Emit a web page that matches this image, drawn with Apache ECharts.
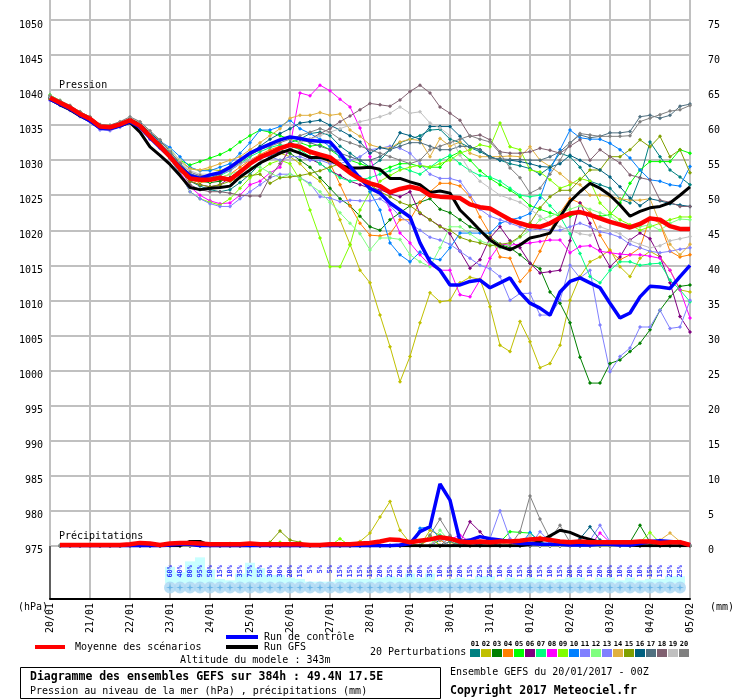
<!DOCTYPE html>
<html><head><meta charset="utf-8">
<script src="https://cdn.jsdelivr.net/npm/echarts@6/dist/echarts.min.js"></script>
<style>html,body{margin:0;padding:0;background:#fff}#c{width:740px;height:700px}</style>
</head><body><div id="c"></div>
<script>
// ---- tick labels / categories ----
const days = ['20/01','21/01','22/01','23/01','24/01','25/01','26/01','27/01','28/01','29/01','30/01','31/01','01/02','02/02','03/02','04/02','05/02'];
const hoursOfDay = ['00','06','12','18'];
const steps = [];
days.forEach((d,k)=>{ if(k<days.length-1){ hoursOfDay.forEach(h=>steps.push(d+' '+h+'h')); } else { steps.push(d+' 00h'); } });

const pertNames = ['01','02','03','04','05','06','07','08','09','10','11','12','13','14','15','16','17','18','19','20'];
const pertColors = ['#008080','#c0c000','#008000','#ff8000','#00ff00','#800080','#00ff80','#ff00ff','#80ff00','#0080ff','#8080ff','#80ff80','#8080ff','#e0b040','#80a000','#006080','#507080','#806070','#c0c0c0','#808080'];

// ---- pressure (hPa), every 6h ----
const mean = [1038.9,1038.2,1037.5,1036.6, 1035.9,1034.8,1034.7,1035.1, 1035.7,1034.9,1033.4,1032.0, 1030.5,1028.8,1027.4,1027.2, 1027.2,1027.5,1027.2,1028.3, 1029.5,1030.4,1031.0,1031.7, 1032.2,1031.9,1031.2,1030.8, 1030.4,1029.3,1028.2,1027.3, 1026.7,1026.3,1025.4,1025.9, 1026.2,1025.9,1025.0,1024.8, 1024.7,1024.6,1023.7,1023.3, 1023.1,1022.3,1021.5,1021.0, 1020.6,1020.5,1021.0,1021.8, 1022.4,1022.6,1022.2,1021.7, 1021.2,1020.8,1020.4,1020.9, 1021.7,1021.5,1020.6,1020.2, 1020.2];
const control = [1038.7,1038.0,1037.3,1036.4, 1035.6,1034.6,1034.5,1034.9, 1035.5,1034.7,1033.2,1031.8, 1030.5,1029.0,1027.8,1027.4, 1027.9,1028.2,1029.0,1030.0, 1031.0,1031.7,1032.3,1032.9, 1033.3,1033.1,1032.8,1032.7, 1032.6,1031.0,1029.1,1027.4, 1026.0,1025.3,1023.9,1022.9, 1021.9,1018.2,1015.5,1014.3, 1012.2,1012.2,1012.7,1012.9, 1011.8,1012.5,1013.2,1011.1, 1009.6,1008.9,1007.9,1011.2, 1012.7,1013.2,1012.5,1011.8, 1009.6,1007.5,1008.2,1010.5, 1012.0,1011.9,1011.7,1013.4, 1015.0];
const gfs = [1038.7,1037.9,1037.2,1036.3, 1035.6,1034.6,1034.5,1034.9, 1035.4,1034.0,1031.9,1030.7, 1029.4,1027.8,1026.1,1025.8, 1026.0,1026.1,1026.3,1027.6, 1028.6,1029.6,1030.3,1031.0, 1031.5,1031.0,1030.4,1030.4, 1030.0,1029.3,1028.9,1028.9, 1029.0,1028.7,1027.4,1027.4, 1026.9,1026.5,1025.4,1025.6, 1025.3,1022.9,1021.5,1020.0, 1018.6,1017.7,1017.2,1017.9, 1018.9,1019.2,1019.6,1021.9, 1024.1,1025.5,1026.7,1026.0, 1025.0,1023.6,1022.0,1022.7, 1023.2,1023.4,1023.9,1025.0, 1026.2];

const p01 = [1038.7,1038.0,1037.3,1036.4,1035.7,1034.5,1034.4,1034.9,1035.5,1034.8,1033.3,1032.2, 1031.0,1029.0,1027.0,1026.3, 1025.8,1025.5,1025.8,1026.8, 1028.0,1029.5,1030.5,1031.5, 1032.5,1033.0,1033.8,1034.0, 1033.5,1032.0,1031.0,1030.0, 1029.0,1030.0,1031.5,1032.5, 1033.0,1033.5,1034.3,1034.4, 1033.0,1032.5,1031.8,1031.2, 1030.5,1030.0,1029.5,1029.2, 1028.8,1028.0,1029.0,1031.0, 1030.5,1029.0,1027.0,1026.5, 1026.0,1024.5,1023.9,1027.5, 1032.6,1030.5,1028.6,1027.6, 1026.5];
const p02 = [1039.0,1038.3,1037.6,1036.7,1036.0,1034.9,1034.8,1035.2,1035.8,1035.2,1033.8,1032.6, 1031.5,1030.0,1028.8,1028.5, 1028.7,1028.5,1029.0,1029.5, 1030.0,1030.5,1031.0,1031.0, 1030.5,1029.5,1028.0,1027.0, 1025.0,1021.5,1018.0,1014.3, 1012.5,1007.9,1003.4,998.4, 1002.0,1006.8,1011.1,1009.8, 1010.0,1012.5,1013.3,1013.0, 1009.1,1003.6,1002.7,1007.0, 1004.1,1000.4,1001.0,1003.6, 1010.0,1013.4,1015.5,1016.2, 1017.2,1014.8,1013.4,1016.0, 1017.0,1016.2,1014.3,1011.5, 1011.2];
const p03 = [1038.8,1038.1,1037.4,1036.5,1035.8,1034.7,1034.6,1035.0,1035.6,1034.9,1033.4,1032.0, 1030.8,1029.0,1027.5,1027.0, 1026.8,1027.0,1027.5,1028.5, 1029.5,1030.5,1031.0,1031.5, 1031.0,1030.0,1029.0,1027.5, 1026.0,1024.5,1023.5,1022.0, 1020.5,1020.0,1021.5,1022.5, 1023.5,1024.0,1024.5,1023.0, 1022.5,1021.5,1020.5,1020.0, 1019.0,1018.0,1017.5,1016.5, 1015.3,1014.5,1011.2,1009.6, 1006.8,1001.9,998.2,998.2, 1001.0,1001.5,1002.7,1003.9, 1005.8,1008.6,1010.5,1012.0, 1012.2];
const p04 = [1039.1,1038.4,1037.7,1036.9,1036.1,1035.0,1034.8,1035.2,1035.8,1035.1,1033.6,1032.2, 1030.5,1028.8,1027.2,1026.8, 1027.0,1027.5,1028.0,1029.0, 1030.0,1030.8,1031.5,1032.0, 1032.2,1031.5,1031.0,1030.5, 1029.6,1026.5,1023.5,1021.0, 1019.3,1019.2,1019.5,1021.5, 1021.5,1024.0,1025.5,1026.7, 1026.7,1026.3,1024.8,1021.9, 1019.5,1016.2,1016.0,1012.7, 1014.3,1017.0,1020.0,1022.5, 1024.5,1023.9,1022.5,1019.3, 1017.0,1015.8,1016.5,1017.5, 1021.8,1021.0,1017.0,1016.2, 1016.5];
const p05 = [1039.3,1038.5,1037.7,1036.8,1036.0,1035.0,1034.9,1035.3,1035.9,1035.3,1034.0,1032.8, 1031.5,1030.0,1029.3,1029.8, 1030.3,1030.8,1031.5,1032.6, 1033.5,1034.3,1034.0,1033.5, 1033.0,1032.5,1032.0,1032.2, 1031.5,1030.5,1030.0,1029.5, 1029.0,1028.5,1029.0,1029.5, 1029.5,1029.1,1029.0,1029.0, 1030.5,1031.2,1030.0,1028.5, 1027.4,1026.5,1025.7,1024.8, 1023.5,1023.0,1022.5,1022.0, 1022.0,1022.5,1022.3,1022.0, 1022.2,1023.9,1026.7,1028.6, 1029.8,1029.8,1029.8,1031.5, 1031.0];
const p06 = [1038.8,1038.1,1037.4,1036.5,1035.8,1034.6,1034.5,1034.9,1035.6,1034.9,1033.3,1031.9, 1030.6,1028.6,1027.0,1026.5, 1026.2,1026.5,1027.5,1028.5, 1029.5,1030.2,1030.8,1031.2, 1031.5,1031.0,1030.2,1029.5, 1028.5,1027.8,1027.0,1026.5, 1026.0,1025.8,1025.2,1024.8, 1025.5,1022.4,1021.5,1020.6, 1019.5,1017.0,1014.6,1015.8, 1018.9,1020.5,1018.5,1017.5, 1015.3,1013.9,1014.1,1014.3, 1018.5,1023.9,1021.0,1017.2, 1014.8,1016.2,1018.6,1019.6, 1018.8,1016.2,1012.5,1007.7, 1005.5];
const p07 = [1038.9,1038.2,1037.5,1036.6,1035.9,1034.8,1034.7,1035.1,1035.7,1035.1,1033.7,1032.4, 1031.0,1029.2,1027.8,1027.5, 1027.5,1027.8,1028.5,1029.5, 1030.5,1031.2,1031.8,1032.2, 1032.0,1031.5,1030.5,1029.5, 1028.5,1027.5,1027.0,1027.2, 1027.5,1028.0,1028.5,1029.0, 1028.5,1028.0,1029.0,1030.0, 1030.7,1029.5,1028.5,1027.8, 1027.6,1027.0,1026.0,1025.0, 1024.8,1025.0,1023.5,1022.0, 1019.5,1016.7,1013.4,1012.5, 1014.3,1015.5,1015.5,1015.0, 1015.2,1015.3,1012.9,1011.5, 1009.8];
const p08 = [1038.6,1037.9,1037.2,1036.3,1035.6,1034.5,1034.3,1034.8,1035.4,1034.7,1033.0,1031.8, 1030.4,1028.3,1026.2,1025.0, 1024.2,1023.8,1023.9,1025.0, 1026.5,1027.0,1028.2,1029.0, 1032.0,1039.6,1039.2,1040.7, 1039.9,1038.7,1037.6,1034.6, 1030.5,1026.0,1022.9,1019.6, 1018.2,1016.5,1015.0,1014.3, 1014.3,1010.8,1010.5,1012.9, 1016.0,1018.0,1017.9,1018.0, 1018.2,1018.4,1018.6,1018.6, 1016.8,1017.7,1017.8,1017.0, 1016.8,1016.6,1016.5,1016.5, 1016.3,1016.0,1014.3,1011.5, 1007.5];
const p09 = [1038.7,1038.0,1037.3,1036.4,1035.7,1034.6,1034.5,1034.9,1035.5,1034.8,1033.2,1031.8, 1030.3,1028.0,1025.5,1024.5, 1024.0,1023.6,1024.5,1026.0, 1027.5,1028.5,1029.5,1030.0, 1029.5,1027.2,1022.9,1018.9, 1014.8,1014.8,1017.9,1022.9, 1025.5,1027.0,1027.8,1028.6, 1029.0,1029.3,1029.0,1029.5, 1030.0,1031.0,1031.5,1032.2, 1031.9,1035.3,1031.9,1031.5, 1028.6,1028.3,1027.2,1026.0, 1026.5,1027.4,1027.0,1023.9, 1022.5,1021.5,1020.8,1020.0, 1020.5,1021.0,1021.5,1021.9, 1021.9];
const p10 = [1039.0,1038.3,1037.6,1036.7,1036.0,1034.9,1034.8,1035.2,1035.8,1035.2,1033.9,1032.7, 1031.8,1030.5,1029.0,1028.5, 1028.5,1029.0,1029.5,1031.0, 1032.5,1034.3,1034.3,1034.8, 1035.7,1034.5,1033.8,1033.0, 1031.9,1030.5,1029.0,1027.6, 1025.5,1022.9,1018.2,1016.5, 1015.5,1016.9,1016.0,1015.8, 1017.5,1019.6,1019.6,1019.6, 1019.6,1021.0,1021.5,1021.8, 1022.4,1024.6,1028.6,1031.5, 1034.3,1033.2,1033.0,1033.0, 1032.4,1031.5,1030.3,1028.6, 1027.2,1027.0,1026.5,1026.3, 1029.1];
const p11 = [1038.5,1037.8,1037.1,1036.2,1035.5,1034.3,1034.2,1034.7,1035.3,1034.6,1033.0,1031.7, 1030.2,1028.0,1025.5,1024.5, 1023.8,1023.4,1023.4,1024.5, 1025.5,1026.5,1027.5,1028.0, 1028.0,1027.5,1026.7,1024.8, 1024.6,1024.1,1024.3,1024.2, 1024.2,1024.5,1023.5,1022.0, 1021.0,1020.0,1019.0,1018.6, 1018.0,1017.0,1016.0,1015.0, 1014.5,1013.4,1010.0,1011.0, 1011.0,1007.9,1007.9,1010.0, 1015.0,1013.2,1014.3,1006.5, 999.8,1002.0,1003.2,1006.2, 1006.2,1008.6,1006.0,1006.2, 1010.0];
const p12 = [1038.9,1038.2,1037.5,1036.6,1035.9,1034.8,1034.6,1035.0,1035.7,1035.0,1033.5,1032.1, 1030.6,1028.7,1027.5,1027.0, 1027.0,1027.5,1028.0,1028.5, 1029.0,1029.0,1028.2,1027.5, 1028.0,1027.5,1026.5,1025.5, 1024.0,1022.5,1021.0,1019.5, 1017.2,1018.9,1018.9,1018.7, 1016.5,1015.5,1014.8,1017.5, 1020.5,1020.5,1019.5,1018.5, 1018.0,1017.5,1018.0,1019.0, 1020.0,1021.5,1022.0,1022.5, 1023.0,1023.5,1023.0,1022.5, 1022.0,1021.0,1020.5,1020.5, 1020.8,1020.0,1021.0,1021.6, 1021.5];
const p13 = [1039.0,1038.3,1037.6,1036.7,1036.0,1034.9,1034.8,1035.3,1035.9,1035.2,1033.8,1032.5, 1030.9,1029.3,1028.0,1027.8, 1027.8,1028.0,1028.5,1029.5, 1030.0,1030.5,1030.5,1030.0, 1030.5,1030.5,1030.0,1030.0, 1029.5,1029.5,1030.0,1030.5, 1031.5,1031.7,1032.0,1031.7, 1031.0,1029.5,1028.0,1027.4, 1027.4,1027.0,1025.0,1023.0, 1022.0,1021.5,1021.0,1020.5, 1020.0,1020.2,1020.0,1020.0, 1020.5,1021.0,1020.5,1019.8, 1019.5,1019.0,1018.0,1017.5, 1017.0,1016.8,1017.0,1017.3, 1017.5];
const p14 = [1039.2,1038.5,1037.8,1036.9,1036.2,1035.1,1035.0,1035.4,1036.0,1035.4,1034.0,1032.8, 1031.2,1029.8,1028.8,1028.6, 1029.0,1029.5,1030.0,1030.5, 1031.5,1032.5,1033.5,1034.5, 1036.0,1036.4,1036.4,1036.8, 1036.4,1036.6,1034.3,1033.4, 1032.2,1031.8,1031.7,1032.6, 1033.0,1032.8,1030.5,1033.1, 1032.0,1032.6,1031.0,1030.5, 1030.5,1030.5,1030.6,1030.5, 1031.9,1030.0,1029.1,1028.1, 1026.9,1026.5,1025.0,1025.0, 1024.8,1024.5,1024.3,1024.3, 1024.5,1021.0,1018.0,1016.5, 1018.0];
const p15 = [1038.8,1038.1,1037.4,1036.5,1035.8,1034.7,1034.5,1034.9,1035.5,1034.8,1033.2,1031.9, 1030.4,1028.5,1027.0,1026.5, 1026.2,1026.5,1027.0,1027.5, 1027.8,1028.0,1026.7,1027.5, 1027.6,1027.8,1028.1,1028.5, 1029.0,1029.5,1028.5,1027.5, 1026.5,1025.5,1024.8,1024.0, 1023.5,1022.5,1021.5,1020.5, 1020.0,1019.0,1018.5,1018.2, 1017.8,1018.0,1018.2,1019.1, 1021.0,1023.2,1024.8,1025.7, 1025.7,1027.2,1028.6,1028.6, 1030.5,1030.5,1031.5,1032.9, 1031.9,1033.4,1030.5,1031.5, 1028.2];
const p16 = [1039.0,1038.3,1037.6,1036.8,1036.0,1034.9,1034.8,1035.3,1035.9,1035.3,1033.9,1032.7, 1031.3,1029.5,1028.0,1027.6, 1027.8,1028.3,1029.0,1030.0, 1031.0,1032.0,1033.0,1033.8, 1034.5,1035.3,1035.5,1035.7, 1035.0,1034.3,1033.5,1032.6, 1031.0,1031.8,1031.5,1033.9, 1033.5,1033.0,1034.8,1034.8, 1034.8,1033.4,1031.9,1031.5, 1030.5,1030.0,1030.0,1029.8, 1029.5,1029.1,1029.0,1029.5, 1030.7,1030.0,1029.2,1028.6, 1027.6,1026.2,1024.6,1023.5, 1024.5,1024.2,1023.8,1023.6, 1023.4];
const p17 = [1038.9,1038.2,1037.5,1036.6,1035.9,1034.8,1034.7,1035.2,1035.8,1035.1,1033.7,1032.4, 1031.0,1029.3,1028.0,1027.6, 1027.5,1028.0,1028.8,1029.8, 1030.8,1031.5,1032.3,1032.8, 1033.2,1033.0,1032.5,1032.0, 1031.5,1031.0,1030.5,1030.0, 1030.0,1030.5,1031.5,1032.0, 1032.5,1032.5,1032.0,1031.5, 1031.5,1032.0,1031.9,1031.5, 1030.3,1030.2,1030.1,1030.1, 1030.0,1030.0,1030.5,1031.2, 1032.5,1033.6,1033.2,1033.4, 1033.9,1033.9,1034.1,1036.2, 1036.4,1036.0,1036.4,1037.7, 1038.0];
const p18 = [1038.8,1038.1,1037.4,1036.5,1035.8,1034.7,1034.6,1035.0,1035.6,1034.9,1033.4,1032.1, 1030.8,1028.8,1026.5,1025.8, 1025.5,1025.5,1025.3,1025.0, 1024.9,1024.9,1027.6,1029.5, 1031.5,1032.5,1033.0,1033.8, 1034.5,1035.5,1036.3,1037.2, 1038.1,1037.9,1037.7,1038.6, 1039.8,1040.7,1039.6,1037.6, 1036.7,1035.7,1033.4,1033.6, 1032.9,1031.2,1031.0,1031.0, 1031.2,1031.7,1031.4,1031.0, 1032.0,1032.9,1030.0,1031.5, 1030.5,1029.6,1027.9,1027.5, 1027.2,1024.3,1024.0,1023.4, 1023.4];
const p19 = [1039.1,1038.4,1037.7,1036.8,1036.1,1035.0,1034.9,1035.4,1036.1,1035.4,1034.1,1032.9, 1031.5,1030.0,1028.5,1028.0, 1028.0,1028.2,1028.8,1029.5, 1030.0,1030.5,1031.0,1031.5, 1032.0,1032.5,1033.0,1033.5, 1034.0,1034.5,1035.0,1035.5, 1035.8,1036.2,1036.7,1037.6, 1036.7,1036.9,1035.3,1034.6, 1033.5,1030.7,1028.5,1027.0, 1026.0,1025.0,1024.5,1024.0, 1023.0,1022.0,1021.0,1020.5, 1020.0,1019.5,1019.3,1020.5, 1020.0,1019.5,1018.5,1018.0, 1017.5,1017.8,1018.5,1018.8, 1019.1];
const p20 = [1039.2,1038.5,1037.8,1036.9,1036.2,1035.1,1035.0,1035.5,1036.2,1035.5,1034.2,1032.9, 1031.2,1029.6,1028.3,1027.8, 1027.8,1028.0,1028.7,1029.7, 1030.7,1031.5,1032.0,1032.5, 1033.0,1033.5,1034.0,1034.5, 1034.0,1033.0,1032.5,1032.0, 1031.5,1031.0,1030.5,1030.0, 1029.5,1030.0,1031.5,1032.0, 1032.5,1033.0,1033.5,1033.0, 1032.6,1031.0,1028.9,1027.5, 1025.3,1026.0,1028.0,1030.0, 1032.4,1033.8,1033.6,1033.4, 1033.4,1033.4,1033.5,1035.5, 1036.0,1036.5,1037.0,1037.2, 1037.8];

// ---- precipitation (mm / 6h) ----
const rMean = [null, 0.1,0.1,0.1,0.1,0.1,0.1,0.1,0.2, 0.4,0.3,0.1,0.3,0.4,0.4,0.3,0.2, 0.2,0.2,0.2,0.3,0.2,0.2,0.2,0.2, 0.2,0.1,0.1,0.2,0.2,0.2,0.3,0.4, 0.6,0.9,0.8,0.5,0.7,0.9,1.2,1.0, 0.6,0.5,0.6,0.5,0.6,0.6,0.7,0.9, 1.0,0.8,0.6,0.5,0.6,0.5,0.5,0.5, 0.5,0.5,0.6,0.6,0.4,0.5,0.5,0.1];
const rControl = [null, 0,0,0,0,0,0,0,0, 0,0,0,0.1,0.2,0.2,0,0, 0,0,0,0,0,0,0,0, 0,0,0,0,0,0,0,0, 0,0,0.1,0.3,2.0,2.7,8.8,6.5, 0.6,0.8,1.3,1.0,0.8,0.6,0.3,0.3, 0.2,0.2,0.2,0.1,0.1,0.1,0.2,0.2, 0.1,0.1,0.3,0.6,0.7,0.6,0.5,0.1];
const rGfs = [null, 0,0,0,0,0,0,0,0, 0,0,0,0,0,0.6,0.6,0, 0,0,0,0,0.2,0,0,0, 0,0,0,0,0,0,0,0, 0,0,0,0,0,0,0,0, 0,0,0,0,0,0,0,0.2, 0.6,1.4,2.2,1.9,1.3,0.9,0.5,0.3, 0.2,0.1,0,0,0,0,0,0];
const r01 = [null, 0,0,0,0,0,0,0,0, 0,0,0,0,0,0,0,0, 0,0,0,0,0,0,0,0, 0,0,0,0,0,0,0,0, 0,0,0,0,0,0,0.8,1.2, 0.4,0,0,0,0,0,0,0, 0,0,0,0,0,0.5,0,0, 0,0,0,0,0,0,0,0];
const r02 = [null, 0,0,0,0,0,0,0,0, 0,0,0,0,0,0,0,0, 0,0,0,0,0,0,0,0, 0,0,0,0,0,0.2,0.6,1.8, 4.1,6.3,2.2,0.4,0,2.2,1.5,0.5, 0,0,0,0,0,0,0,0, 0,0,0,0,0,0,0,0, 0,0,0,0,0,0,0,0];
const r03 = [null, 0,0,0,0,0,0,0,0, 0,0,0,0,0,0,0,0, 0,0,0,0,0,0,0,0, 0,0,0,0,0,0,0,0, 0,0,0,0,0,0,0,0, 0,0,0,0,0,0,0,0, 0,0,0,0,0,0,0,0, 0.3,0.5,2.9,0.5,0,0,0,0];
const r04 = [null, 0,0,0,0,0,0,0,0, 0,0,0,0,0,0,0,0, 0,0,0,0,0,0,0,0, 0,0,0,0,0,0,0,0, 0,0,0,0,0,1.0,0.8,0, 0,0,0,0,0,0,0,0, 1.2,0.4,0,0,0,0,0,0, 0,0,0,0,0,0,0,0];
const r05 = [null, 0,0,0,0,0,0,0,0, 0,0,0,0,0,0,0,0, 0,0,0,0,0,0,0,0, 0,0,0,0,0,0,0,0, 0,0,0,0,0,0,0,0, 0,0,0,0,0.5,2.0,1.9,1.8, 0.6,0,0,0,0,0,0,0, 0,0,0,0,0,0,0,0];
const r06 = [null, 0,0,0,0,0,0,0,0, 0,0,0,0,0,0,0,0, 0,0,0,0,0,0,0,0, 0,0,0,0,0,0,0,0, 0,0,0,0,0,0,0,0, 0.5,3.4,2.0,0.3,0,0,0,0, 0,0,0,0,0,0,0,0, 0,0,0,0,0,0,0,0];
const r07 = [null, 0,0,0,0,0,0,0,0, 0,0,0,0,0,0,0,0, 0,0,0,0,0,0,0,0, 0,0,0,0,0,0,0,0, 0,0,0,0,0,0,1.5,1.0, 0,0,0,0,0,0,0,0.8, 0,0,0,0,0,0,0,0, 0,0,0,0,0,0,0,0];
const r08 = [null, 0,0,0,0,0,0,0,0, 0,0,0,0,0,0,0,0, 0,0,0,0,0,0,0,0, 0,0,0,0,0,0,0,0, 0,0,0,0,0,0,1.2,0.9, 1.5,0.5,0,0,0,0,0,0, 0,0,0,0,0,0,1.8,0.5, 0,0,0,0,0,0,0,0];
const r09 = [null, 0,0,0,0,0,0,0,0, 0,0,0,0,0,0,0,0, 0,0.3,0,0,0,0,0.5,0, 0,0,0,0,1.0,0,0,0, 0,0,0,0,0,1.2,0,0, 0,0,0,0,0,0,0,0, 0,0,0,0,0,0,0,0, 0,0,0.5,1.9,0.4,0,0,0];
const r10 = [null, 0,0,0,0,0,0,0,0, 0,0,0,0,0,0,0,0, 0,0,0,0,0,0,0,0, 0,0,0,0,0,0,0,0, 0,0,0,0,2.5,2.7,1.0,0, 0,0,0,0,0,0,0,1.9, 0.5,0,0,0,0,0,0,0, 0,0,0,0,0,0,0,0];
const r11 = [null, 0,0,0,0,0,0,0,0, 0,0,0,0,0,0,0,0, 0,0,0,0,0,0,0,0, 0,0,0,0,0,0,0,0, 0,0,0,0,0,0,0,0, 0,0,0,1.0,5.0,1.0,0,0, 0,0,0,0,0,0,0,0, 0,0,0,0,0,0,0,0];
const r12 = [null, 0,0,0,0,0,0,0,0, 0,0,0,0,0,0,0,0, 0,0,0,0,0,0,0,0, 0,0,0,0,0,0,0,0, 0,0,0,0,0,0,2.2,0.6, 0,0,0,0,0.5,0,0,0, 0,0,0,0,0,0,0,0, 0,0,0,0,0,0,0,0];
const r13 = [null, 0,0,0,0,0,0,0,0, 0,0,0,0,0,0,0,0, 0,0,0,0,0,0,0,0, 0,0,0,0,0,0,0,0, 0,0,0,0,0,0,0,0, 0,0,0,0,0,0,0,0, 2.0,0.5,0,0,0,0.8,2.9,0.6, 0,0,0,0,0,0,0,0];
const r14 = [null, 0,0,0,0,0,0,0,0, 0,0,0,0,0,0,0,0, 0,0,0,0,0,0,0,0, 0,0,0,0,0,0,0,0, 0,0,0,0,0,0,0,0, 0,0,0,0,0,0,0,1.0, 0,0,0,0,0,0,0,0, 0,0,0,0,0.8,1.8,0.6,0];
const r15 = [null, 0,0,0,0,0,0,0,0, 0,0,0,0,0,0,0,0, 0,0,0,0,0,0.5,2.1,0.8, 0.5,0,0,0,0,0,0,0, 0,0,0,0,0,1.5,0,0, 0,0,0,0,0,0,0,0, 0,0,0,0,0,0,0,0, 0,0,0,0,0,0,0,0];
const r16 = [null, 0,0,0,0,0,0,0,0, 0,0,0,0,0,0,0,0, 0,0,0,0,0,0,0,0, 0,0,0,0,0,0,0,0, 0,0,0,0,0,0,0,0, 0,0,0,0,0,0,0,0, 0,0,0,0,1.0,2.7,0.8,0, 0,0,0,0,0,0,0,0];
const r17 = [null, 0,0,0,0,0,0,0,0, 0,0,0,0,0,0,0,0, 0,0,0,0,0,0,0,0, 0,0,0,0,0,0,0,0, 0,0,0,0,0,0,0,0.6, 0,0,0,0,0,0,0,0, 0,0,0,0,0,0,0,0, 0,0.3,0,0,0,0,0,0];
const r18 = [null, 0,0,0,0,0,0,0,0, 0,0,0,0,0,0,0,0, 0,0,0,0,0,0,0,0, 0,0,0,0,0,0,0,0, 0,0,0,0,0,0,0,1.2, 0.3,0,0,0,0,0,0,0, 0,0,0,0,0,0,0,0, 0,0,0,0,0,0,0,0];
const r19 = [null, 0,0,0,0,0,0,0,0, 0,0,0,0,0,0,0,0, 0,0,0,0,0,0,0,0, 0,0,0,0,0,0,0,0, 0,0,0,0,0,0,1.0,0, 0,0,0,0,0,0,0,1.5, 0,0,0,0,0,0,0,0, 0,0,0,0,0,0,0,0];
const r20 = [null, 0,0,0,0,0,0,0,0, 0,0,0,0,0,0,0,0, 0,0,0,0,0,0,0,0, 0,0,0,0,0,0,0,0, 0,0,0,0,0,1.5,3.8,1.5, 0,0,0,0,0,0,2.0,7.1, 3.8,1.0,2.9,0.5,0,0,0,0, 0,0,0,0,0,0,0,0];

// ---- probability of precipitation (%) per 6h step ----
const pct = [null,null,null,null,null,null,null,null,null,null,null,null,
  60,40,80,95,50,15,10,35,75,55,30,30,20,15,5,5,5,15,15,15,15,20,25,20,35,20,35,10,15,20,15,25,25,10,20,15,20,15,10,15,20,20,10,20,20,10,20,10,15,15,25,25, null];

const perts = [p01,p02,p03,p04,p05,p06,p07,p08,p09,p10,p11,p12,p13,p14,p15,p16,p17,p18,p19,p20];
const rains = [r01,r02,r03,r04,r05,r06,r07,r08,r09,r10,r11,r12,r13,r14,r15,r16,r17,r18,r19,r20];
const checks = {mean,control,gfs,rMean,rControl,rGfs,pct,steps};
perts.forEach((a,k)=>checks['p'+pertNames[k]]=a); rains.forEach((a,k)=>checks['r'+pertNames[k]]=a);
for (const [k,v] of Object.entries(checks)) if (v.length!==65) throw new Error(k+' length '+v.length);

const FONT = 'DejaVu Sans Mono';
const series = [];
perts.forEach((d,k)=>series.push({type:'line',name:'P'+pertNames[k],xAxisIndex:1,yAxisIndex:1,data:d,
  symbol:'diamond',symbolSize:4,showSymbol:true,lineStyle:{width:1,color:pertColors[k]},itemStyle:{color:pertColors[k]},z:2,silent:true}));
rains.forEach((d,k)=>series.push({type:'line',name:'R'+pertNames[k],xAxisIndex:1,yAxisIndex:2,data:d,
  symbol:'diamond',symbolSize:4,showSymbol:true,lineStyle:{width:1,color:pertColors[k]},itemStyle:{color:pertColors[k]},z:2,silent:true}));
const main = [[gfs,rGfs,'#000000',3],[control,rControl,'#0000ff',3.5],[mean,rMean,'#ff0000',4.5]];
main.forEach(([p,r,c,w])=>{
  series.push({type:'line',xAxisIndex:1,yAxisIndex:1,data:p,showSymbol:false,lineStyle:{width:w,color:c},z:3,silent:true});
  series.push({type:'line',xAxisIndex:1,yAxisIndex:2,data:r,showSymbol:false,lineStyle:{width:w,color:c},z:3,silent:true});
});
// probability bars, labels, snow row
series.push({type:'bar',xAxisIndex:2,yAxisIndex:3,data:pct,barWidth:10,itemStyle:{color:'#c8ffff'},z:1,silent:true});
const labelData = [], snowData = [];
pct.forEach((p,i)=>{ if(p!=null){ labelData.push([i,66.7,p]); snowData.push([i,-16.7]); } });
series.push({type:'scatter',xAxisIndex:2,yAxisIndex:3,data:snowData,symbol:'circle',symbolSize:12,itemStyle:{color:'#a6d6f2'},z:2,silent:true});
series.push({type:'scatter',xAxisIndex:2,yAxisIndex:3,data:snowData,symbol:'path://M0,-5L1,-1L5,0L1,1L0,5L-1,1L-5,0L-1,-1Z',symbolSize:8,itemStyle:{color:'#5aaee6'},z:3,silent:true});
series.push({type:'scatter',xAxisIndex:2,yAxisIndex:3,data:labelData,symbolSize:1,itemStyle:{color:'rgba(0,0,0,0)'},z:4,silent:true,
  label:{show:true,position:'inside',rotate:90,align:'right',verticalAlign:'middle',formatter:p=>p.value[2]+'%',
  color:'#0000ff',fontFamily:FONT,fontSize:7,fontWeight:'bold'}});

const txt = (t,x,y,opt={}) => ({type:'text',z:10,style:Object.assign({text:t,x:x,y:y,fill:'#000',font:'10px "'+FONT+'"',align:'left',verticalAlign:'middle'},opt)});
const graphic = [
  txt('Pression',59,85), txt('Précipitations',59,536),
  txt('(hPa)',48,607,{align:'right'}), txt('(mm)',710,607),
  {type:'line',z:10,shape:{x1:35,y1:647,x2:65,y2:647},style:{stroke:'#ff0000',lineWidth:4}},
  txt('Moyenne des scénarios',75,647),
  {type:'line',z:10,shape:{x1:226,y1:637,x2:258,y2:637},style:{stroke:'#0000ff',lineWidth:4}},
  txt('Run de contrôle',264,637),
  {type:'line',z:10,shape:{x1:226,y1:647,x2:258,y2:647},style:{stroke:'#000000',lineWidth:4}},
  txt('Run GFS',264,647),
  txt('Altitude du modele : 343m',180,660),
  txt('20 Perturbations',370,652),
  {type:'rect',z:10,shape:{x:20.5,y:667.5,width:420,height:31},style:{fill:'none',stroke:'#000',lineWidth:1}},
  txt('Diagramme des ensembles GEFS sur 384h : 49.4N 17.5E',30,677,{font:'bold 11.5px "'+FONT+'"'}),
  txt('Pression au niveau de la mer (hPa) , précipitations (mm)',30,691),
  txt('Ensemble GEFS du 20/01/2017 - 00Z',450,672),
  txt('Copyright 2017 Meteociel.fr',450,691,{font:'bold 11.5px "'+FONT+'"'}),
  {type:'line',z:10,shape:{x1:50,y1:546,x2:50,y2:599},style:{stroke:'#000',lineWidth:1}}
];
pertNames.forEach((n,k)=>{
  graphic.push({type:'rect',z:10,shape:{x:470+11*k,y:649,width:10,height:8},style:{fill:pertColors[k]}});
  graphic.push(txt(n,475+11*k,644,{align:'center',font:'bold 7px "'+FONT+'"'}));
});

const chart = echarts.init(document.getElementById('c'),null,{renderer:'canvas'});
chart.setOption({
  animation:false, backgroundColor:'#ffffff',
  grid:[{left:50,right:50,top:0,bottom:101},{left:50,right:50,top:20,bottom:154.3},{left:50,right:50,top:545.7,bottom:101}],
  xAxis:[
    {gridIndex:0,type:'category',data:steps,boundaryGap:false,
     axisLine:{show:true,lineStyle:{color:'#000',width:2}},axisTick:{show:false},
     axisLabel:{interval:3,rotate:90,margin:4,formatter:v=>v.slice(0,5),fontFamily:FONT,fontSize:10,color:'#000'},
     splitLine:{show:true,interval:3,lineStyle:{color:'#c0c0c0',width:2}}},
    {gridIndex:1,type:'category',data:steps,boundaryGap:false,show:false},
    {gridIndex:2,type:'category',data:steps,boundaryGap:false,show:false}
  ],
  yAxis:[
    {gridIndex:0,type:'value',min:0,max:1,show:false},
    {gridIndex:1,type:'value',min:975,max:1050,interval:5,position:'left',axisLine:{show:false},axisTick:{show:false},
     axisLabel:{margin:7,verticalAlign:'top',formatter:v=>String(v),fontFamily:FONT,fontSize:10,color:'#000'},
     splitLine:{show:true,lineStyle:{color:'#c0c0c0',width:2}}},
    {gridIndex:1,type:'value',min:0,max:75,interval:5,position:'right',axisLine:{show:false},axisTick:{show:false},
     axisLabel:{margin:18,verticalAlign:'top',formatter:v=>String(v),fontFamily:FONT,fontSize:10,color:'#000'},splitLine:{show:false}},
    {gridIndex:2,type:'value',min:-59.3,max:138.1,show:false}
  ],
  series:series,
  graphic:graphic
});
</script>
</body></html>
